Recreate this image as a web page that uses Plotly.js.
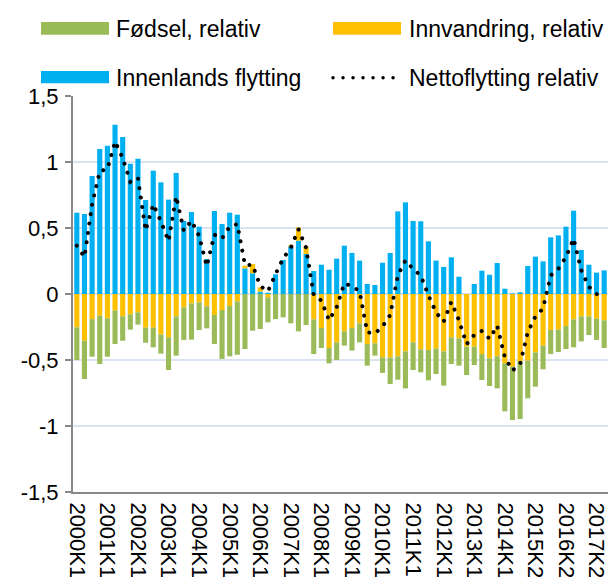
<!DOCTYPE html>
<html>
<head>
<meta charset="utf-8">
<script src="https://cdn.plot.ly/plotly-3.0.1.min.js"></script>
<style>
  html, body { margin: 0; padding: 0; background: #fff; }
  #chart { width: 612px; height: 577px; }
  .scatterlayer .js-line, .shapelayer path { stroke-linecap: round !important; }
</style>
</head>
<body>
<div id="chart"></div>
<script>
// Quarters (categories)
const categories = [
  '2000K1','2000K2','2000K3','2000K4',
  '2001K1','2001K2','2001K3','2001K4',
  '2002K1','2002K2','2002K3','2002K4',
  '2003K1','2003K2','2003K3','2003K4',
  '2004K1','2004K2','2004K3','2004K4',
  '2005K1','2005K2','2005K3','2005K4',
  '2006K1','2006K2','2006K3','2006K4',
  '2007K1','2007K2','2007K3','2007K4',
  '2008K1','2008K2','2008K3','2008K4',
  '2009K1','2009K2','2009K3','2009K4',
  '2010K1','2010K2','2010K3','2010K4',
  '2011K1','2011K2','2011K3','2011K4',
  '2012K1','2012K2','2012K3','2012K4',
  '2013K1','2013K2','2013K3','2013K4',
  '2014K1','2014K2','2014K3','2014K4',
  '2015K2','2015K3','2015K4',
  '2016K1','2016K2','2016K3','2016K4',
  '2017K1','2017K2','2017K3'
];

// Tick labels shown on the x axis
const tickLabels = ['2000K1','2001K1','2002K1','2003K1','2004K1','2005K1','2006K1',
  '2007K1','2008K1','2009K1','2010K1','2011K1','2012K1','2013K1','2014K1',
  '2015K2','2016K2','2017K2'];

// Innenlands flytting (blue)
const innenlands = [
  0.616, 0.606, 0.894, 1.098, 1.124, 1.283, 1.189, 0.987, 1.025, 0.712,
  0.934, 0.846, 0.715, 0.917, 0.553, 0.621, 0.510, 0.265, 0.629, 0.530,
  0.616, 0.601, 0.194, 0.157, 0.018, 0.010, 0.149, 0.258, 0.359, 0.404,
  0.303, 0.174, 0.222, 0.184, 0.268, 0.366, 0.311, 0.253, 0.076, 0.068,
  0.237, 0.311, 0.626, 0.694, 0.553, 0.551, 0.399, 0.253, 0.205, 0.278,
  0.131, 0.000, 0.076, 0.177, 0.146, 0.235, 0.040, 0.005, 0.013, 0.212,
  0.283, 0.247, 0.429, 0.444, 0.510, 0.631, 0.333, 0.222, 0.162, 0.179
];

// Innvandring, relativ (yellow)
const innvandring = [
  -0.253, -0.354, -0.190, -0.164, -0.184, -0.126, -0.169, -0.154, -0.139, -0.255,
  -0.255, -0.306, -0.328, -0.169, -0.101, -0.071, -0.063, -0.093, -0.159, -0.121,
  -0.091, -0.056, 0.020, 0.070, 0.033, -0.025, 0.000, 0.000, 0.010, 0.100,
  0.056, -0.192, -0.258, -0.409, -0.366, -0.283, -0.258, -0.222, -0.379, -0.374,
  -0.480, -0.480, -0.472, -0.434, -0.366, -0.419, -0.424, -0.414, -0.434, -0.328,
  -0.336, -0.399, -0.399, -0.455, -0.487, -0.472, -0.525, -0.550, -0.510, -0.505,
  -0.442, -0.391, -0.273, -0.268, -0.242, -0.192, -0.169, -0.169, -0.187, -0.199
];

// Fødsel, relativ (green)
const fodsel = [
  -0.247, -0.290, -0.285, -0.366, -0.291, -0.253, -0.185, -0.116, -0.093, -0.114,
  -0.149, -0.146, -0.248, -0.298, -0.247, -0.275, -0.210, -0.167, -0.220, -0.371,
  -0.381, -0.404, -0.417, -0.278, -0.265, -0.190, -0.190, -0.177, -0.222, -0.283,
  -0.235, -0.263, -0.151, -0.116, -0.134, -0.108, -0.171, -0.144, -0.164, -0.093,
  -0.118, -0.202, -0.177, -0.281, -0.210, -0.174, -0.230, -0.192, -0.260, -0.202,
  -0.207, -0.215, -0.139, -0.197, -0.210, -0.243, -0.364, -0.405, -0.437, -0.285,
  -0.260, -0.180, -0.182, -0.171, -0.175, -0.212, -0.190, -0.142, -0.161, -0.210
];

// Nettoflytting relativ (dotted line)
const netto = [
  0.366, 0.280, 0.680, 0.930, 0.945, 1.155, 1.030, 0.850, 0.880, 0.480,
  0.680, 0.550, 0.400, 0.740, 0.480, 0.555, 0.440, 0.210, 0.450, 0.420,
  0.510, 0.530, 0.220, 0.220, 0.060, 0.020, 0.150, 0.270, 0.350, 0.490,
  0.350, -0.010, -0.050, -0.200, -0.100, 0.080, 0.060, 0.020, -0.290, -0.300,
  -0.245, -0.160, 0.140, 0.255, 0.190, 0.140, -0.010, -0.140, -0.210, -0.060,
  -0.200, -0.380, -0.310, -0.280, -0.340, -0.240, -0.480, -0.580, -0.530, -0.290,
  -0.170, -0.110, 0.140, 0.190, 0.280, 0.420, 0.180, 0.055, 0.000, -0.015
];

const yTickVals = [-1.5, -1, -0.5, 0, 0.5, 1, 1.5];
const yTickText = ['-1,5', '-1', '-0,5', '0', '0,5', '1', '1,5'];

const seriesNames = ['Fødsel, relativ', 'Innvandring, relativ', 'Innenlands flytting', 'Nettoflytting relativ'];
const colors = { fodsel: '#9BBB59', innv: '#FFC000', innen: '#00B0F0', net: '#000000' };

const FONT = 'Liberation Sans, Arial, Helvetica, sans-serif';

const traces = [
  { type: 'bar', name: seriesNames[2], x: categories, y: innenlands,
    marker: { color: colors.innen, line: { width: 0 } }, showlegend: false },
  { type: 'bar', name: seriesNames[1], x: categories, y: innvandring,
    marker: { color: colors.innv, line: { width: 0 } }, showlegend: false },
  { type: 'bar', name: seriesNames[0], x: categories, y: fodsel,
    marker: { color: colors.fodsel, line: { width: 0 } }, showlegend: false },
  { type: 'scatter', mode: 'lines', name: seriesNames[3], x: categories, y: netto,
    line: { color: colors.net, width: 4, dash: '0.01px,9.5px' }, showlegend: false }
];

// Manual legend (pixel offsets from the top-left corner of the plot area)
function swatch(x0, x1, y0, y1, color) {
  return { type: 'rect', xref: 'paper', yref: 'paper', xsizemode: 'pixel', ysizemode: 'pixel',
    xanchor: 0, yanchor: 1, x0: x0, x1: x1, y0: y0, y1: y1,
    fillcolor: color, line: { width: 0 } };
}
function legText(text, xs, ys) {
  return { text: text, xref: 'paper', yref: 'paper', x: 0, y: 1, xanchor: 'left', yanchor: 'middle',
    xshift: xs, yshift: ys, showarrow: false, font: { family: FONT, size: 23, color: '#000' } };
}

const shapes = [
  swatch(-32, 36, 61.3, 74, colors.fodsel),
  swatch(260, 328, 61.3, 74, colors.innv),
  swatch(-32, 36, 12.7, 25, colors.innen),
  { type: 'line', xref: 'paper', yref: 'paper', xsizemode: 'pixel', ysizemode: 'pixel',
    xanchor: 0, yanchor: 1, x0: 260, x1: 321, y0: 18.3, y1: 18.3,
    line: { color: colors.net, width: 3.5, dash: '0.01px,10px' } }
];

const annotations = [
  legText(seriesNames[0], 41, 67),
  legText(seriesNames[1], 334, 67),
  legText(seriesNames[2], 41, 18.5),
  legText(seriesNames[3], 334, 18.5)
];

const layout = {
  width: 612, height: 577,
  margin: { l: 73, r: 4, t: 96, b: 85, pad: 0 },
  paper_bgcolor: '#fff', plot_bgcolor: '#fff',
  font: { family: FONT, size: 22, color: '#000' },
  barmode: 'relative',
  bargap: 0.33,
  showlegend: false,
  xaxis: {
    type: 'category',
    categoryorder: 'array', categoryarray: categories,
    tickmode: 'array', tickvals: tickLabels, ticktext: tickLabels,
    tickangle: 90,
    ticks: '',
    showgrid: false,
    showline: true, linecolor: '#898989', linewidth: 2,
    tickfont: { family: FONT, size: 22, color: '#000' },
    ticklabelstandoff: 4,
    fixedrange: true
  },
  yaxis: {
    range: [-1.5, 1.5],
    tickmode: 'array', tickvals: yTickVals, ticktext: yTickText,
    ticks: 'outside', ticklen: 6, tickwidth: 2, tickcolor: '#898989',
    showline: true, linecolor: '#898989', linewidth: 2,
    showgrid: true, gridcolor: '#dae3f0', gridwidth: 1.5,
    zeroline: false,
    tickfont: { family: FONT, size: 22, color: '#000' },
    ticklabelstandoff: 2,
    fixedrange: true
  },
  shapes: shapes,
  annotations: annotations
};

Plotly.newPlot('chart', traces, layout, { displayModeBar: false, staticPlot: true });
</script>
</body>
</html>
